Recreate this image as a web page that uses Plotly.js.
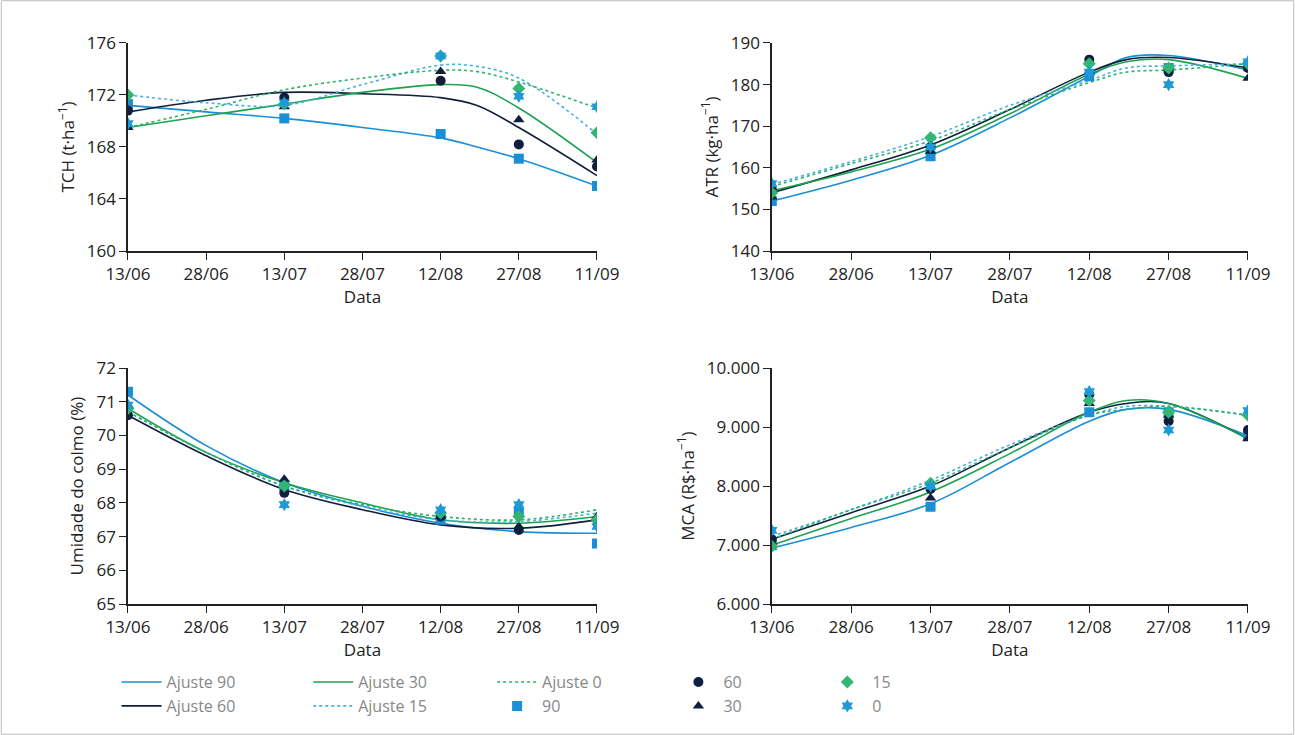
<!DOCTYPE html>
<html>
<head>
<meta charset="utf-8">
<script src="https://cdn.plot.ly/plotly-3.0.1.min.js"></script>
<style>body{margin:0;background:#fff}#chart{width:1295px;height:735px}</style>
</head>
<body>
<div id="chart"></div>
<script>
// days since 13/06
const tickVals = [0, 15, 30, 45, 60, 75, 90];
const tickText = ["13/06", "28/06", "13/07", "28/07", "12/08", "27/08", "11/09"];
const obsDays = [0, 30, 60, 75, 90];
const fitDays = [0, 15, 30, 45, 60, 67, 75, 90];
const fitDaysU = [0, 15, 30, 45, 60, 75, 90];

// TCH
const tch90 = [171.3, 170.2, 169.0, 167.1, 165.0];
const tch60 = [170.8, 171.8, 173.1, 168.2, 166.5];
const tch30 = [169.5, 171.1, 173.8, 170.1, 167.0];
const tch15 = [172.0, 171.3, 175.0, 172.5, 169.1];
const tch0 = [169.8, 171.4, 175.0, 171.9, 171.1];
const tchFit90 = [171.2, 170.7, 170.2, 169.5, 168.7, 168.0, 167.1, 165.0];
const tchFit60 = [170.7, 171.6, 172.2, 172.1, 171.8, 171.2, 169.5, 165.8];
const tchFit30 = [169.5, 170.4, 171.3, 172.2, 172.8, 172.6, 171.0, 166.8];
const tchFit15 = [172.0, 171.4, 171.2, 172.8, 174.3, 174.2, 173.3, 169.0];
const tchFit0 = [169.5, 170.9, 172.4, 173.3, 173.9, 173.8, 173.0, 171.0];

// ATR
const atr90 = [152, 162.8, 182, 184, 184.5];
const atr60 = [154.8, 165, 186, 183, 184];
const atr30 = [153, 164, 183, 184, 181.5];
const atr15 = [154, 167.2, 185, 184, 185];
const atr0 = [156.2, 165, 183, 180, 185.5];
const atrFit90 = [152, 157, 163, 172, 182, 186.5, 187, 183.5];
const atrFit60 = [154, 159.5, 165.5, 174, 183, 186, 186.5, 184];
const atrFit30 = [154.5, 159, 164.5, 173, 182.5, 185.5, 186, 181.5];
const atrFit15 = [156, 161.5, 167.5, 175, 181, 184, 184.5, 185];
const atrFit0 = [155.5, 161, 166.5, 174, 180.5, 183, 183.5, 185];

// Umidade do colmo
const um90 = [71.3, 68.5, 67.5, 67.7, 66.8];
const um60 = [70.6, 68.3, 67.6, 67.2, 67.5];
const um30 = [70.9, 68.7, 67.6, 67.3, 67.6];
const um15 = [70.8, 68.5, 67.7, 67.6, 67.5];
const um0 = [70.9, 67.95, 67.8, 67.95, 67.3];
const umFit90 = [71.2, 69.7, 68.6, 67.9, 67.4, 67.15, 67.1];
const umFit60 = [70.6, 69.4, 68.4, 67.8, 67.35, 67.25, 67.5];
const umFit30 = [70.8, 69.5, 68.6, 68.0, 67.5, 67.4, 67.6];
const umFit15 = [70.7, 69.5, 68.5, 67.9, 67.5, 67.45, 67.7];
const umFit0 = [70.7, 69.5, 68.5, 67.95, 67.6, 67.5, 67.8];

// MCA
const mca90 = [7000, 7650, 9250, 9250, 8850];
const mca60 = [7100, 7950, 9550, 9100, 8950];
const mca30 = [7050, 7800, 9400, 9200, 8800];
const mca15 = [6980, 8050, 9450, 9250, 9200];
const mca0 = [7250, 8000, 9600, 8950, 9280];
const mcaFit90 = [6950, 7300, 7700, 8400, 9100, 9300, 9300, 8850];
const mcaFit60 = [7100, 7550, 8000, 8650, 9250, 9400, 9400, 8800];
const mcaFit30 = [7000, 7450, 7900, 8550, 9250, 9450, 9400, 8800];
const mcaFit15 = [7150, 7600, 8100, 8700, 9200, 9350, 9350, 9200];
const mcaFit0 = [7100, 7600, 8050, 8650, 9200, 9300, 9350, 9200];

const C90 = "#1a8fd6", C60 = "#0f1f3d", C30 = "#1fa24f", C15 = "#4aaee6", C0 = "#2bb36b", CSTAR = "#1e9ad6";

const fitStyles = [
    { name: "Ajuste 90", color: C90, dash: "solid", legend: "legend" },
    { name: "Ajuste 60", color: C60, dash: "solid", legend: "legend" },
    { name: "Ajuste 30", color: C30, dash: "solid", legend: "legend2" },
    { name: "Ajuste 15", color: C15, dash: "dot", legend: "legend2" },
    { name: "Ajuste 0", color: C0, dash: "dot", legend: "legend3" }
];
const obsStyles = [
    { name: "90", color: C90, symbol: "square", legend: "legend3" },
    { name: "60", color: C60, symbol: "circle", legend: "legend4" },
    { name: "30", color: C60, symbol: "triangle-up", legend: "legend4" },
    { name: "15", color: "#35b574", symbol: "diamond", legend: "legend5" },
    { name: "0", color: CSTAR, symbol: "hexagram", legend: "legend5" }
];

const panels = [
    { ax: "", fits: [tchFit90, tchFit60, tchFit30, tchFit15, tchFit0], fx: fitDays, obs: [tch90, tch60, tch30, tch15, tch0] },
    { ax: "2", fits: [atrFit90, atrFit60, atrFit30, atrFit15, atrFit0], fx: fitDays, obs: [atr90, atr60, atr30, atr15, atr0] },
    { ax: "3", fits: [umFit90, umFit60, umFit30, umFit15, umFit0], fx: fitDaysU, obs: [um90, um60, um30, um15, um0] },
    { ax: "4", fits: [mcaFit90, mcaFit60, mcaFit30, mcaFit15, mcaFit0], fx: fitDays, obs: [mca90, mca60, mca30, mca15, mca0] }
];

const traces = [];
panels.forEach((p, pi) => {
    p.fits.forEach((ys, i) => {
        const s = fitStyles[i];
        traces.push({
            x: p.fx, y: ys, type: "scatter", mode: "lines",
            name: s.name, legend: s.legend, legendgroup: s.name, showlegend: pi === 0,
            xaxis: "x" + p.ax, yaxis: "y" + p.ax,
            line: { color: s.color, width: 1.6, dash: s.dash, shape: "spline", smoothing: 1 }
        });
    });
    p.obs.forEach((ys, i) => {
        const s = obsStyles[i];
        traces.push({
            x: obsDays, y: ys, type: "scatter", mode: "markers",
            name: s.name, legend: s.legend, legendgroup: "o" + s.name, showlegend: pi === 0,
            xaxis: "x" + p.ax, yaxis: "y" + p.ax,
            marker: { color: s.color, symbol: s.symbol, size: 10 }
        });
    });
});

const font = { family: "Open Sans, Noto Sans, sans-serif", size: 17, color: "#222" };

function xAxis(domain, anchor) {
    return {
        domain, anchor, range: [0, 90], tickvals: tickVals, ticktext: tickText,
        showgrid: false, zeroline: false, showline: true, linecolor: "#222", linewidth: 1.5,
        ticks: "outside", ticklen: 7, tickcolor: "#222",
        title: { text: "Data", font, standoff: 4 }, tickfont: font
    };
}
function yAxis(domain, anchor, range, dtick, title, fmt) {
    return {
        domain, anchor, range, dtick, tickformat: fmt,
        showgrid: false, zeroline: false, showline: true, linecolor: "#222", linewidth: 1.5,
        ticks: "outside", ticklen: 7, tickcolor: "#222",
        title: { text: title, font, standoff: 8 }, tickfont: font
    };
}

const xL = [0.0988, 0.461], xR = [0.596, 0.9637];
const yT = [0.6585, 0.9415], yB = [0.178, 0.4993];

const legendBase = { orientation: "v", yanchor: "top", y: 0.095, font: { family: font.family, size: 16, color: "#888" }, bgcolor: "rgba(0,0,0,0)", tracegroupgap: 0, itemwidth: 40 };

const layout = {
    width: 1295, height: 735,
    margin: { t: 0, r: 0, b: 0, l: 0 },
    paper_bgcolor: "#fff", plot_bgcolor: "#fff",
    separators: ",.",
    font,
    xaxis: xAxis(xL, "y"), yaxis: yAxis(yT, "x", [160, 176], 4, "TCH (t·ha<sup>−1</sup>)"),
    xaxis2: xAxis(xR, "y2"), yaxis2: yAxis(yT, "x2", [140, 190], 10, "ATR (kg·ha<sup>−1</sup>)"),
    xaxis3: xAxis(xL, "y3"), yaxis3: yAxis(yB, "x3", [65, 72], 1, "Umidade do colmo (%)"),
    xaxis4: xAxis(xR, "y4"), yaxis4: yAxis(yB, "x4", [6000, 10000], 1000, "MCA (R$·ha<sup>−1</sup>)", ",d"),
    legend: Object.assign({}, legendBase, { x: 0.09 }),
    legend2: Object.assign({}, legendBase, { x: 0.238 }),
    legend3: Object.assign({}, legendBase, { x: 0.38 }),
    legend4: Object.assign({}, legendBase, { x: 0.52 }),
    legend5: Object.assign({}, legendBase, { x: 0.635 }),
    shapes: [{ type: "rect", xref: "paper", yref: "paper", x0: 0.001, x1: 0.999, y0: 0.001, y1: 0.999, line: { color: "#bbb", width: 1 } }]
};

Plotly.newPlot("chart", traces, layout, { displayModeBar: false, staticPlot: true });
</script>
</body>
</html>
